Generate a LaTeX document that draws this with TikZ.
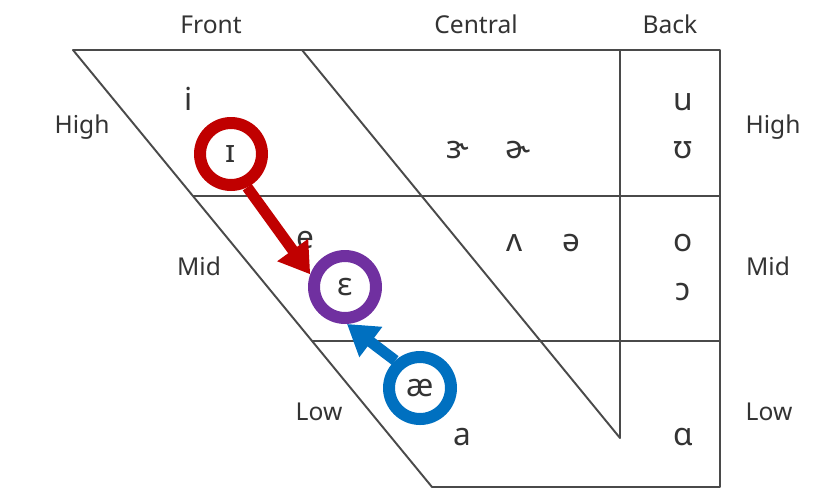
\documentclass[tikz,border=0pt]{standalone}
\usepackage{fontspec}
\setmainfont{Noto Sans}
\usepackage{tikz}
\usetikzlibrary{arrows.meta, calc}
\definecolor{chartline}{HTML}{4A4A4A}
\definecolor{charttext}{HTML}{333333}
\definecolor{shiftred}{HTML}{C00000}
\definecolor{shiftpurple}{HTML}{7030A0}
\definecolor{shiftblue}{HTML}{0070C0}

\begin{document}
\begin{tikzpicture}[x=0.02cm, y=-0.02cm,
  chartframe/.style={draw=chartline, line width=1.1pt, line join=round},
  headlbl/.style={anchor=base, text=charttext, font=\fontsize{14}{16}\selectfont},
  vowel/.style={anchor=base, text=charttext, font=\fontsize{18}{20}\selectfont},
  ring/.style={circle, draw=#1, line width=0.24cm, minimum size=1.24cm, inner sep=0pt, text=charttext, font=\fontsize{18}{20}\selectfont},
  shiftarrow/.style={draw=#1, line width=0.22cm, -{Triangle[width=0.72cm, length=0.6cm]}}]
  \useasboundingbox (0,0) rectangle (817,498);
  % chart frame
  \coordinate (tl) at (73,50);
  \coordinate (tr) at (720,50);
  \coordinate (br) at (720,487);
  \coordinate (bl) at (432,487);
  \coordinate (ctop) at (302,50);
  \coordinate (cbot) at (620,438);
  \coordinate (btop) at (620,50);
  \draw[chartframe] (tl) -- (tr) -- (br) -- (bl) -- cycle;
  \draw[chartframe] ($(tl)!1/3!(bl)$) -- ($(tr)!1/3!(br)$);
  \draw[chartframe] ($(tl)!2/3!(bl)$) -- ($(tr)!2/3!(br)$);
  \draw[chartframe] (ctop) -- (cbot) -- (btop);
  % row and column labels
  \node[headlbl] (front) at (211,33) {Front};
  \node[headlbl] (central) at (476,33) {Central};
  \node[headlbl] (back) at (670,33) {Back};
  \node[headlbl] (highL) at (82,133) {High};
  \node[headlbl] (highR) at (773,133) {High};
  \node[headlbl] (midL) at (199,275) {Mid};
  \node[headlbl] (midR) at (768,275) {Mid};
  \node[headlbl] (lowL) at (319,420) {Low};
  \node[headlbl] (lowR) at (769,420) {Low};
  % vowels
  \node[vowel] (vi) at (189,110) {i};
  \node[vowel] (ver) at (458,158) {ɝ};
  \node[vowel] (vschr) at (518,158) {ɚ};
  \node[vowel] (vu) at (683,110) {u};
  \node[vowel] (vupsilon) at (683,158) {ʊ};
  \node[vowel] (ve) at (305,248) {e};
  \node[vowel] (vwedge) at (515,251) {ʌ};
  \node[vowel] (vschwa) at (571,251) {ə};
  \node[vowel] (vo) at (683,251) {o};
  \node[vowel] (vopeno) at (683,300) {ɔ};
  \node[vowel] (va) at (462,445) {a};
  \node[vowel] (valpha) at (683,445) {ɑ};
  % circled vowels and shifts
  \node[ring=shiftred] (ri) at (231,154) {ɪ};
  \node[ring=shiftpurple] (rep) at (345,287) {ɛ};
  \node[ring=shiftblue] (rae) at (420,388) {æ};
  \draw[shiftarrow=shiftred] (ri.-64) -- (rep.160);
  \draw[shiftarrow=shiftblue] (rae.132) -- (rep.-87);
\end{tikzpicture}
\end{document}
